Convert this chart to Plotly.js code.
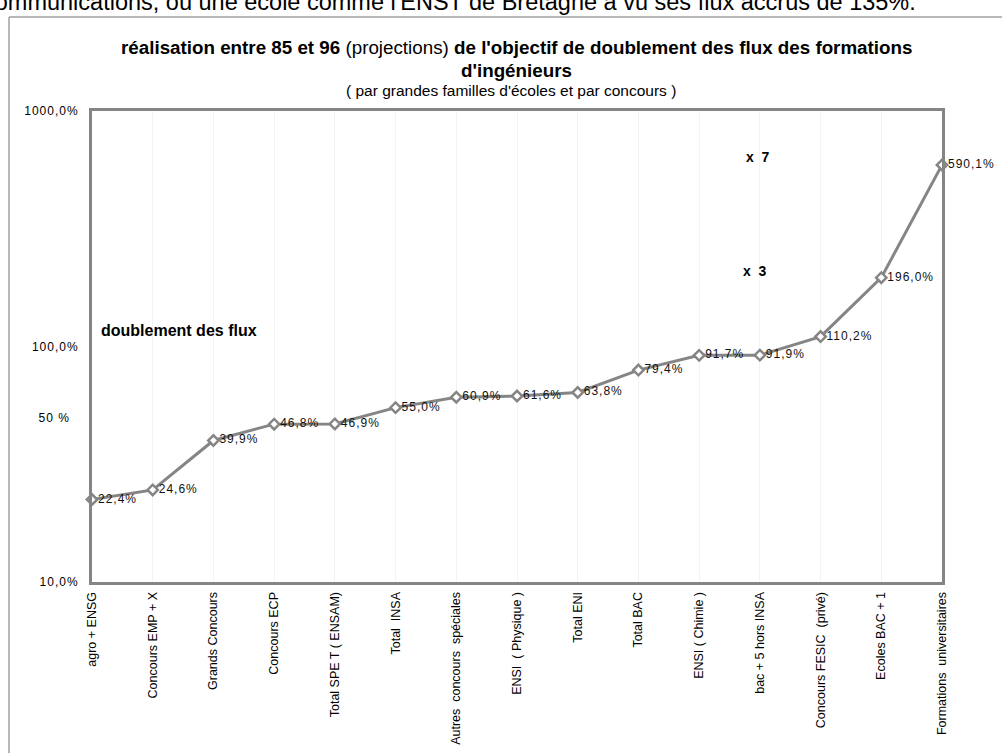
<!DOCTYPE html>
<html>
<head>
<meta charset="utf-8">
<script src="https://cdn.plot.ly/plotly-3.0.1.min.js"></script>
<style>
  html, body { margin: 0; padding: 0; background: #fff; }
  #chart { width: 1002px; height: 753px; }
  .ytick text, .textpoint text { letter-spacing: 1px; }
</style>
</head>
<body>
<div id="chart"></div>
<script>
// ---- data ----
const categories = [
  "agro + ENSG",
  "Concours EMP + X",
  "Grands Concours",
  "Concours ECP",
  "Total SPE T ( ENSAM)",
  "Total\u00a0 INSA",
  "Autres\u00a0 concours\u00a0 spéciales",
  "ENSI\u00a0 ( Physique )",
  "Total ENI",
  "Total BAC",
  "ENSI ( Chimie )",
  "bac + 5 hors INSA",
  "Concours FESIC\u00a0 (privé)",
  "Ecoles BAC + 1",
  "Formations\u00a0 universitaires"
];
const growthPct = [22.4, 24.6, 39.9, 46.8, 46.9, 55.0, 60.9, 61.6, 63.8, 79.4, 91.7, 91.9, 110.2, 196.0, 590.1];
const yTickVals = [10, 50, 100, 1000];
const yTickText = ["10,0%", "50 %\u00a0\u00a0", "100,0%", "1000,0%"];

const pointLabels = growthPct.map(v => v.toFixed(1).replace('.', ',') + '%');

const gray = '#858585';
const W = 1002, H = 753;
const L = 92, R = 60, T = 111, B = 171;
const pw = W - L - R, ph = H - T - B;
const px = x => (x - L) / pw;
const py = y => (H - B - y) / ph;

const trace = {
  type: 'scatter',
  mode: 'lines+markers+text',
  x: categories,
  y: growthPct,
  text: pointLabels,
  textposition: 'middle right',
  textfont: { family: 'Liberation Sans, Arial, sans-serif', size: 12, color: '#111' },
  line: { color: gray, width: 3 },
  marker: { symbol: 'diamond', size: 8, color: '#fff', line: { color: gray, width: 2.5 } },
  cliponaxis: false,
  hoverinfo: 'skip'
};

const sans = 'Liberation Sans, Arial, sans-serif';

const layout = {
  width: W, height: H,
  margin: { l: L, r: R, t: T, b: B },
  paper_bgcolor: '#fff',
  plot_bgcolor: '#fff',
  showlegend: false,
  font: { family: sans, color: '#000' },
  xaxis: {
    type: 'category',
    range: [0, categories.length - 1],
    tickangle: -90,
    ticks: '',
    showline: true, mirror: true, linecolor: gray, linewidth: 3,
    showgrid: true, gridcolor: '#f3f3f3', gridwidth: 1,
    tickfont: { family: sans, size: 12.5, color: '#000' },
    ticklabelstandoff: 2,
    automargin: false,
    zeroline: false,
    fixedrange: true
  },
  yaxis: {
    type: 'log',
    range: [1, 3],
    tickvals: yTickVals,
    ticktext: yTickText,
    ticks: '',
    showline: true, mirror: true, linecolor: gray, linewidth: 3,
    showgrid: false,
    tickfont: { family: sans, size: 12, color: '#000' },
    ticklabelstandoff: 8,
    automargin: false,
    zeroline: false,
    fixedrange: true
  },
  shapes: [
    { type: 'line', xref: 'paper', yref: 'paper', x0: px(9), x1: px(9), y0: py(760), y1: py(17),
      line: { color: '#b8b8b8', width: 2 } },
    { type: 'line', xref: 'paper', yref: 'paper', x0: px(9), x1: px(1010), y0: py(17), y1: py(17),
      line: { color: '#b8b8b8', width: 2 } }
  ],
  annotations: [
    { xref: 'paper', yref: 'paper', x: px(918), y: py(2), xanchor: 'right', yanchor: 'middle',
      showarrow: false,
      text: "communications, où une école comme l'ENST de Bretagne a vu ses flux accrus de 135%.",
      font: { family: sans, size: 23.5, color: '#000' } },
    { xref: 'paper', yref: 'paper', x: px(516), y: py(47), xanchor: 'center', yanchor: 'middle',
      showarrow: false,
      text: "<b>réalisation entre 85 et 96</b> (projections) <b>de l'objectif de doublement des flux des formations</b>",
      font: { family: sans, size: 18.8, color: '#000' } },
    { xref: 'paper', yref: 'paper', x: px(516), y: py(70), xanchor: 'center', yanchor: 'middle',
      showarrow: false,
      text: "<b>d'ingénieurs</b>",
      font: { family: sans, size: 18.8, color: '#000' } },
    { xref: 'paper', yref: 'paper', x: px(511), y: py(90), xanchor: 'center', yanchor: 'middle',
      showarrow: false,
      text: "( par grandes familles d'écoles et par concours )",
      font: { family: sans, size: 15.5, color: '#000' } },
    { xref: 'paper', yref: 'paper', x: px(99), y: py(330), xanchor: 'left', yanchor: 'middle',
      showarrow: false, text: "<b>doublement des flux</b>",
      font: { family: sans, size: 16, color: '#000' } },
    { xref: 'paper', yref: 'paper', x: px(758), y: py(157), xanchor: 'center', yanchor: 'middle',
      showarrow: false, text: "<b>x\u00a0 7</b>",
      font: { family: sans, size: 14, color: '#000' } },
    { xref: 'paper', yref: 'paper', x: px(755), y: py(271), xanchor: 'center', yanchor: 'middle',
      showarrow: false, text: "<b>x\u00a0 3</b>",
      font: { family: sans, size: 14, color: '#000' } }
  ]
};

Plotly.newPlot('chart', [trace], layout, { displayModeBar: false, staticPlot: true });
</script>
</body>
</html>
